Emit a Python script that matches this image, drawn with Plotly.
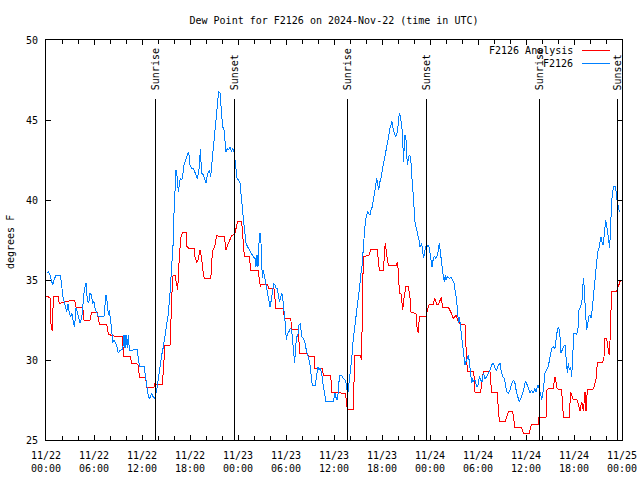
import pandas as pd
import plotly.graph_objects as go

START = "2024-11-22 00:00"

# Hours since 2024-11-22 00:00 UTC and dew point (F)
analysis_hours = [0.0, 0.5, 0.58, 0.79, 0.92, 1.5, 1.67, 2.0, 3.0, 3.6, 3.75, 4.6, 4.75, 5.5, 5.7, 6.4, 6.55, 6.75, 7.6, 7.8,
                  8.5, 9.55, 9.7, 10.55, 10.7, 11.3, 11.5, 11.7, 12.45, 12.6, 13.5, 13.6, 14.55, 14.87, 15.5, 15.83, 16.125, 16.33, 16.46, 16.67,
                  16.875, 17.08, 17.5, 17.58, 17.8, 18.5, 18.625, 18.83, 19.04, 19.25, 19.46, 19.67, 19.8, 20.6, 20.7, 20.8, 21.1, 21.33, 21.5, 22.25,
                  22.4, 22.5, 22.8, 23.2, 23.6, 23.96, 24.46, 24.6, 24.79, 25.4, 25.625, 26.5, 26.67, 26.8, 26.9, 27.7, 27.79, 28.4, 28.55, 28.7,
                  28.8, 29.67, 29.79, 30.6, 30.7, 31.5, 31.75, 32.7, 32.79, 33.54, 33.6, 34.54, 34.67, 35.6, 35.7, 36.5, 36.6, 37.46, 37.58, 37.7,
                  38.4, 38.6, 39.25, 39.46, 39.54, 39.67, 40.4, 40.58, 41.4, 41.54, 41.67, 42.17, 42.3, 42.4, 42.58, 42.8, 43.75, 43.9, 44.04, 44.17,
                  44.4, 44.58, 44.75, 45.0, 45.3, 45.5, 45.6, 46.25, 46.4, 46.54, 46.67, 47.5, 47.67, 47.9, 48.4, 48.6, 48.83, 49.08, 49.4, 49.58,
                  49.875, 50.3, 50.6, 50.9, 51.25, 51.54, 51.83, 52.375, 52.5, 52.67, 53.4, 53.5, 53.625, 54.33, 54.46, 54.67, 55.5, 55.6, 55.7, 56.4,
                  56.54, 56.67, 57.4, 57.58, 57.79, 58.33, 58.5, 58.625, 59.46, 59.67, 60.4, 60.58, 60.7, 61.54, 61.6, 62.5, 62.58, 62.79, 63.4, 63.625,
                  63.75, 63.9, 64.46, 64.58, 64.75, 65.4, 65.58, 65.7, 65.9, 66.33, 66.5, 66.75, 66.96, 67.17, 67.375, 67.5, 67.67, 68.33, 68.5, 68.75,
                  68.92, 69.58, 69.75, 69.875, 70.08, 70.29, 70.4, 70.5, 70.7, 71.33, 71.5, 71.75, 72.0]
analysis_values = [34.0, 33.9, 32.4, 31.8, 34.0, 34.0, 33.5, 33.6, 33.7, 33.7, 33.3, 33.3, 32.5, 32.5, 33.0, 33.0, 32.5, 32.2, 32.2, 31.6,
                   31.5, 31.5, 30.2, 30.2, 29.8, 29.8, 29.7, 28.9, 28.9, 28.3, 28.3, 28.5, 28.45, 30.9, 30.9, 35.25, 35.3, 34.8, 34.4, 36.5,
                   37.7, 38.0, 38.0, 37.1, 37.0, 37.0, 36.45, 36.1, 36.3, 36.9, 36.3, 35.4, 35.1, 35.1, 36.0, 36.8, 37.1, 37.8, 37.75, 37.75,
                   37.3, 36.9, 37.3, 37.75, 37.9, 38.65, 38.65, 37.8, 36.5, 36.5, 35.6, 35.6, 34.8, 34.6, 34.75, 34.75, 34.5, 34.5, 34.4, 33.2,
                   33.25, 33.25, 32.6, 32.6, 31.9, 31.9, 30.4, 30.4, 30.25, 30.25, 29.5, 29.5, 29.06, 29.06, 28.0, 28.0, 27.95, 27.9, 27.2, 26.9,
                   26.9, 30.3, 30.3, 30.0, 33.3, 36.45, 36.56, 36.9, 36.9, 36.0, 35.6, 35.6, 36.6, 37.3, 36.6, 35.9, 35.9, 36.1, 35.6, 34.2,
                   34.1, 33.1, 33.9, 34.6, 34.6, 33.9, 33.0, 32.9, 31.9, 31.7, 32.75, 32.75, 33.1, 33.5, 33.5, 33.86, 33.5, 33.5, 33.9, 33.3,
                   33.3, 33.3, 33.0, 32.6, 32.8, 32.4, 32.2, 32.2, 30.8, 29.3, 29.3, 29.0, 28.0, 28.0, 28.5, 29.27, 29.27, 28.4, 27.96, 27.96,
                   26.9, 26.15, 26.15, 26.5, 26.77, 26.77, 26.0, 25.77, 25.77, 25.42, 25.42, 25.8, 26.0, 26.0, 26.4, 26.4, 28.1, 28.23, 28.23, 28.96,
                   28.6, 28.2, 28.15, 27.0, 26.4, 26.4, 28.0, 27.8, 27.54, 27.54, 27.3, 26.8, 27.4, 26.8, 28.0, 26.8, 28.17, 28.17, 28.3, 28.8,
                   29.83, 29.83, 30.2, 31.35, 31.35, 30.6, 30.3, 31.2, 34.27, 34.3, 34.5, 34.9, 35.0]

station_hours = [0.08, 0.29, 0.5, 0.67, 0.83, 1.0, 1.25, 1.75, 1.92, 2.08, 2.25, 2.375, 2.58, 2.75, 2.92, 3.08, 3.25, 3.4, 3.54, 3.67,
                 3.75, 3.92, 4.08, 4.25, 4.46, 4.67, 4.79, 5.0, 5.17, 5.33, 5.5, 5.67, 5.83, 6.0, 6.17, 6.33, 6.54, 7.25, 7.375, 7.5,
                 7.67, 7.79, 7.92, 8.08, 8.2, 8.33, 8.46, 8.625, 8.83, 9.04, 9.2, 9.58, 9.75, 9.875, 10.0, 10.17, 10.29, 10.42, 11.4, 11.58,
                 11.75, 12.25, 12.375, 12.5, 12.67, 12.8, 13.0, 13.2, 13.4, 13.6, 13.83, 14.04, 14.25, 14.46, 14.67, 14.87, 15.08, 15.29, 15.5, 15.62,
                 15.75, 15.92, 16.0, 16.125, 16.25, 16.375, 16.54, 16.67, 16.79, 16.96, 17.08, 17.25, 17.46, 17.67, 17.83, 18.0, 18.2, 18.42, 18.625, 18.83,
                 18.92, 19.04, 19.17, 19.29, 19.46, 19.67, 19.875, 20.0, 20.17, 20.29, 20.42, 20.58, 20.75, 20.92, 21.0, 21.17, 21.33, 21.46, 21.58, 21.75,
                 21.83, 21.96, 22.08, 22.25, 22.375, 22.5, 22.67, 22.79, 23.0, 23.17, 23.33, 23.5, 23.625, 23.75, 23.875, 24.04, 24.25, 24.375, 24.54, 24.7,
                 24.875, 25.0, 25.17, 25.375, 25.625, 25.9, 26.125, 26.25, 26.375, 26.5, 26.625, 26.75, 26.875, 26.96, 27.04, 27.17, 27.29, 27.46, 27.625, 27.79,
                 27.92, 28.0, 28.125, 28.29, 28.46, 28.625, 28.75, 28.92, 29.04, 29.17, 29.29, 29.46, 29.58, 29.71, 29.79, 29.92, 30.04, 30.2, 30.375, 30.54,
                 30.71, 30.83, 30.96, 31.08, 31.2, 31.33, 31.46, 31.625, 31.79, 31.96, 32.17, 32.375, 32.58, 32.79, 33.0, 33.125, 33.29, 33.625, 33.83, 33.96,
                 34.125, 34.25, 34.46, 34.58, 34.75, 34.875, 35.0, 35.92, 36.125, 36.33, 36.46, 36.625, 36.75, 36.96, 37.17, 37.375, 37.54, 37.7, 37.875, 38.0,
                 38.2, 38.4, 38.625, 38.83, 39.04, 39.25, 39.375, 39.54, 39.67, 39.79, 39.92, 40.08, 40.2, 40.33, 40.5, 40.625, 40.79, 40.92, 41.04, 41.17,
                 41.33, 41.46, 41.58, 41.75, 41.875, 42.0, 42.17, 42.29, 42.42, 42.58, 42.71, 42.83, 43.0, 43.125, 43.25, 43.33, 43.5, 43.67, 43.83, 43.96,
                 44.08, 44.2, 44.33, 44.46, 44.58, 44.67, 44.75, 44.875, 45.0, 45.08, 45.17, 45.29, 45.42, 45.58, 45.67, 45.79, 45.92, 46.0, 46.125, 46.25,
                 46.42, 46.54, 46.67, 46.75, 46.96, 47.08, 47.21, 47.33, 47.46, 47.58, 47.71, 47.83, 48.0, 48.125, 48.25, 48.42, 48.54, 48.75, 48.92, 49.04,
                 49.17, 49.29, 49.42, 49.54, 49.67, 49.79, 49.92, 50.0, 50.17, 50.42, 50.625, 50.83, 51.0, 51.17, 51.33, 51.46, 51.58, 51.67, 51.83, 51.96,
                 52.08, 52.25, 52.375, 52.5, 52.67, 52.79, 52.92, 53.0, 53.125, 53.21, 53.33, 53.42, 53.625, 53.83, 54.04, 54.17, 54.33, 54.5, 54.67, 54.875,
                 55.08, 55.29, 55.5, 55.71, 55.92, 56.125, 56.33, 56.54, 56.75, 56.92, 57.08, 57.29, 57.46, 57.58, 57.79, 58.0, 58.21, 58.42, 58.625, 58.83,
                 59.04, 59.17, 59.375, 59.58, 59.75, 59.92, 60.08, 60.29, 60.5, 60.71, 60.92, 61.08, 61.25, 61.42, 61.54, 61.67, 61.83, 61.96, 62.17, 62.375,
                 62.58, 62.79, 63.0, 63.21, 63.42, 63.625, 63.75, 63.92, 64.08, 64.25, 64.375, 64.54, 64.67, 64.875, 65.0, 65.17, 65.29, 65.42, 65.58, 65.71,
                 65.83, 65.92, 66.0, 66.17, 66.33, 66.5, 66.625, 66.83, 67.0, 67.17, 67.29, 67.42, 67.58, 67.71, 67.83, 68.0, 68.125, 68.25, 68.42, 68.54,
                 68.67, 68.75, 68.83, 68.96, 69.125, 69.25, 69.375, 69.5, 69.625, 69.75, 69.83, 69.96, 70.08, 70.2, 70.33, 70.46, 70.58, 70.71, 70.83, 70.96,
                 71.125, 71.25, 71.33, 71.46, 71.58, 71.67]
station_values = [35.42, 35.5, 35.3, 34.9, 34.7, 35.0, 35.3, 35.3, 34.9, 34.06, 33.65, 33.44, 33.02, 33.5, 32.9, 32.7, 32.9, 32.4, 32.08, 32.6,
                  33.23, 33.0, 32.6, 32.3, 32.6, 33.86, 34.4, 34.83, 33.75, 33.54, 34.17, 34.06, 33.54, 33.65, 33.1, 33.0, 32.7, 32.75, 33.44, 34.06,
                  33.54, 32.8, 33.1, 32.6, 31.98, 31.04, 31.25, 31.15, 30.9, 30.42, 30.6, 30.65, 31.56, 30.73, 31.56, 30.73, 31.56, 30.6, 30.65, 29.9,
                  29.6, 29.6, 29.17, 28.85, 28.33, 27.7, 27.6, 27.9, 27.7, 27.6, 28.1, 28.96, 29.8, 30.3, 30.83, 31.5, 32.08, 32.9, 34.17, 35.2,
                  36.46, 37.5, 39.17, 40.6, 41.875, 41.5, 40.5, 41.0, 41.35, 41.25, 41.46, 42.19, 42.5, 42.7, 43.02, 42.2, 41.98, 41.98, 41.77, 41.46,
                  41.35, 41.67, 42.08, 43.17, 41.67, 41.56, 41.25, 41.04, 41.56, 41.77, 41.875, 41.46, 42.4, 43.33, 43.75, 44.4, 45.42, 46.25, 46.77, 46.7,
                  46.04, 45.42, 44.58, 44.375, 43.85, 43.02, 43.23, 43.125, 43.33, 43.02, 43.23, 43.02, 42.5, 41.875, 41.35, 41.25, 41.04, 40.4, 39.3, 38.7,
                  37.9, 37.3, 37.1, 36.9, 36.67, 36.46, 36.35, 35.83, 36.56, 35.83, 37.29, 37.92, 37.29, 35.83, 35.1, 35.6, 35.3, 34.79, 34.48, 34.06,
                  33.75, 33.33, 33.65, 34.375, 34.79, 34.69, 34.48, 34.48, 33.96, 33.65, 33.85, 34.17, 33.96, 33.33, 32.81, 32.19, 31.25, 31.67, 31.77, 31.98,
                  31.875, 31.15, 30.42, 29.79, 30.83, 31.46, 31.46, 32.19, 32.29, 31.46, 31.35, 31.04, 30.52, 30.21, 29.69, 29.17, 28.4, 28.4, 28.96, 29.58,
                  29.375, 29.48, 29.17, 28.65, 28.125, 27.92, 27.4, 27.4, 27.92, 27.5, 27.6, 28.65, 29.06, 29.06, 28.85, 28.75, 28.54, 27.8, 28.54, 29.375,
                  30.0, 31.25, 32.1, 32.92, 34.0, 34.79, 35.42, 36.0, 37.08, 37.92, 38.65, 39.06, 39.27, 39.17, 39.06, 39.375, 39.58, 40.0, 40.3, 40.73,
                  41.35, 41.04, 40.625, 41.15, 41.35, 41.77, 42.19, 42.6, 42.92, 43.23, 43.65, 43.96, 44.5, 44.79, 44.9, 44.58, 44.17, 43.96, 44.06, 44.375,
                  45.1, 45.42, 45.1, 44.58, 44.17, 42.4, 43.54, 44.06, 43.75, 42.6, 42.19, 42.6, 42.8, 42.7, 41.67, 41.04, 40.2, 39.17, 38.65, 38.33,
                  38.0, 37.7, 37.4, 37.08, 37.29, 36.77, 36.35, 36.77, 37.08, 37.29, 37.08, 37.19, 36.67, 36.15, 35.83, 36.35, 36.5, 36.35, 36.56, 36.875,
                  37.29, 36.77, 35.94, 35.73, 35.21, 34.9, 35.3, 35.0, 35.2, 35.1, 35.2, 35.0, 34.8, 34.27, 33.75, 32.92, 32.29, 32.7, 32.08, 31.46,
                  30.83, 30.2, 29.69, 29.9, 30.1, 30.3, 29.9, 29.4, 28.85, 28.54, 28.85, 28.65, 28.75, 28.33, 28.44, 28.96, 28.75, 28.65, 29.17, 28.85,
                  28.96, 29.17, 29.375, 29.69, 29.79, 29.48, 29.375, 29.69, 29.79, 29.27, 28.96, 28.85, 28.33, 28.02, 27.92, 28.125, 28.54, 28.75, 28.54, 27.92,
                  27.6, 27.4, 27.6, 27.92, 28.23, 28.65, 28.54, 28.23, 27.92, 28.125, 27.92, 28.23, 28.02, 28.33, 28.44, 28.125, 27.92, 27.5, 28.125, 29.17,
                  29.375, 29.58, 30.21, 30.73, 30.83, 30.73, 31.25, 31.875, 32.08, 31.46, 30.42, 30.625, 30.83, 30.94, 30.0, 29.17, 29.79, 29.375, 29.58, 28.96,
                  30.21, 31.04, 31.67, 31.67, 31.56, 31.98, 33.125, 33.33, 33.75, 35.1, 34.48, 33.125, 31.875, 32.19, 32.71, 32.81, 32.6, 33.02, 33.96, 34.48,
                  35.1, 35.6, 36.3, 36.77, 37.0, 37.5, 37.7, 37.4, 37.19, 37.7, 38.23, 38.75, 38.44, 37.8, 37.5, 36.98, 38.75, 39.9, 40.52, 40.83,
                  40.875, 40.6, 40.1, 39.8, 39.5, 39.27]

event_labels = ["Sunrise", "Sunset", "Sunrise", "Sunset", "Sunrise", "Sunset"]
event_hours = [13.65, 23.53, 37.67, 47.52, 61.65, 71.43]

series_names = ["F2126 Analysis", "F2126"]
series_colors = ["#ff0000", "#0080ff"]

t0 = pd.Timestamp(START)
def to_time(hours):
    return [t0 + pd.Timedelta(hours=h) for h in hours]

FONT = "DejaVu Sans Mono"
FS = 10
fig = go.Figure()
fig.add_trace(go.Scatter(x=to_time(analysis_hours), y=analysis_values, mode="lines",
                         line=dict(color=series_colors[0], width=1), name=series_names[0], showlegend=False))
fig.add_trace(go.Scatter(x=to_time(station_hours), y=station_values, mode="lines",
                         line=dict(color=series_colors[1], width=1), name=series_names[1], showlegend=False))

# Sunrise / sunset markers
line_top = (440 - 99) / 400
for lab, t in zip(event_labels, to_time(event_hours)):
    fig.add_shape(type="line", xref="x", yref="paper", x0=t, x1=t, y0=0, y1=line_top,
                  line=dict(color="black", width=1))
    fig.add_annotation(x=t, y=(440 - 92) / 400, xref="x", yref="paper", text=lab, textangle=-90,
                       showarrow=False, xanchor="center", yanchor="bottom",
                       font=dict(family=FONT, size=FS, color="black"))

# Legend (gnuplot style: text then sample line)
legend_y = [(440 - 50) / 400, (440 - 63) / 400]
for name, col, ly in zip(series_names, series_colors, legend_y):
    fig.add_annotation(x=(575 - 46) / 576, y=ly, xref="paper", yref="paper", text=name,
                       showarrow=False, xanchor="right", yanchor="middle",
                       font=dict(family=FONT, size=FS, color="black"))
    fig.add_shape(type="line", xref="paper", yref="paper", x0=(582 - 46) / 576, x1=(610 - 46) / 576,
                  y0=ly, y1=ly, line=dict(color=col, width=1))

# Y axis title
fig.add_annotation(x=(10 - 46) / 576, y=(440 - 242) / 400, xref="paper", yref="paper", text="degrees F",
                   textangle=-90, showarrow=False, xanchor="center", yanchor="middle",
                   font=dict(family=FONT, size=FS, color="black"))

fig.update_layout(
    width=640, height=480,
    margin=dict(l=46, r=18, t=40, b=40, autoexpand=False),
    paper_bgcolor="white", plot_bgcolor="white",
    font=dict(family=FONT, size=FS, color="black"),
    title=dict(text="Dew Point for F2126 on 2024-Nov-22 (time in UTC)", x=334 / 640, xanchor="center",
               y=1 - 20 / 480, yanchor="middle", font=dict(family=FONT, size=FS, color="black")),
    showlegend=False,
)
fig.update_xaxes(
    type="date", range=[t0, t0 + pd.Timedelta(hours=72)], automargin=False,
    tick0=t0, dtick=6 * 3600 * 1000, tickformat="%m/%d<br>%H:%M",
    ticks="inside", ticklen=5, tickcolor="black", tickwidth=1,
    minor=dict(dtick=2 * 3600 * 1000, tick0=t0, ticks="inside", ticklen=4, tickcolor="black", showgrid=False),
    showline=True, linecolor="black", linewidth=1, mirror="ticks",
    showgrid=False, zeroline=False, ticklabelstandoff=6,
)
fig.update_yaxes(
    range=[25, 50], dtick=5, tick0=25, automargin=False,
    ticks="inside", ticklen=5, tickcolor="black", tickwidth=1,
    showline=True, linecolor="black", linewidth=1, mirror="ticks",
    showgrid=False, zeroline=False, ticklabelstandoff=5,
)

fig.write_html(
    "out.html",
    config={"displayModeBar": False},
    post_script=("document.body.style.margin='0';"
                 "document.querySelectorAll('.scatterlayer path, .shapelayer path')"
                 ".forEach(function(p){p.style.shapeRendering='crispEdges';});"),
)
